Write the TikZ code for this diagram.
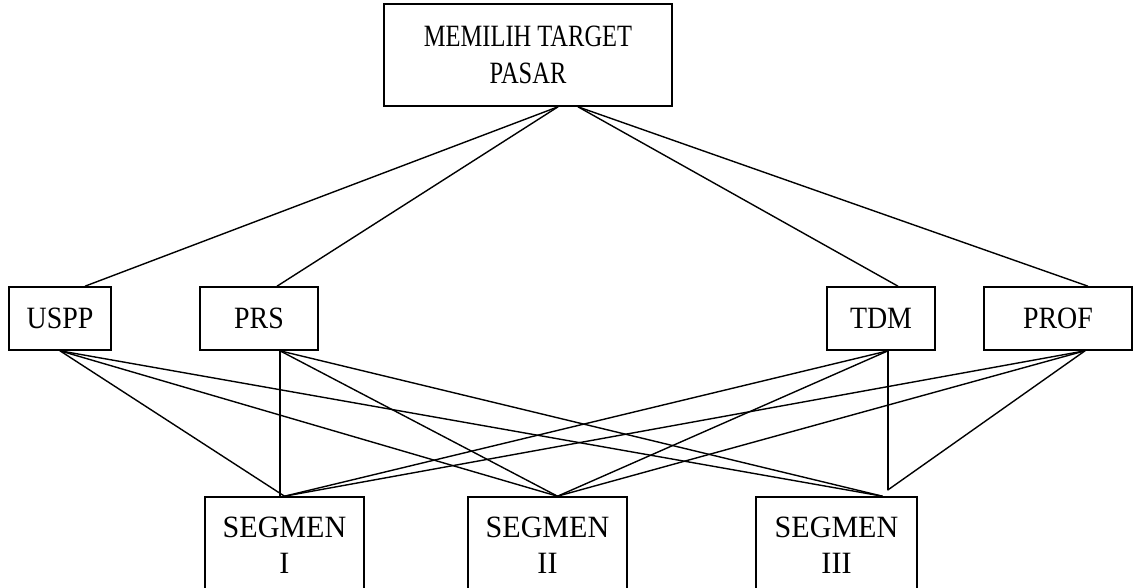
\documentclass[tikz,border=0pt]{standalone}
\usepackage{fontspec}
\setmainfont{Liberation Serif}
\newfontfamily\ftop{Liberation Serif}[FakeStretch=0.79]
\newfontfamily\fmid{Liberation Serif}[FakeStretch=0.9]
\newfontfamily\fbot{Liberation Serif}[FakeStretch=0.97]
\usetikzlibrary{calc}
\begin{document}
\begin{tikzpicture}[x=1pt,y=-1pt,
  box/.style={draw,line width=1.6pt,inner sep=0pt,align=center},
  topfont/.style={font=\ftop\fontsize{31}{37}\selectfont},
  midfont/.style={font=\fmid\fontsize{31}{37}\selectfont},
  botfont/.style={font=\fbot\fontsize{31}{36}\selectfont},
  conn/.style={line width=1.4pt}]
\useasboundingbox (0,0) rectangle (1134,587);
\node[box,topfont,minimum width=288pt,minimum height=102pt] (top) at (528,55) {MEMILIH TARGET\\PASAR};
\node[box,midfont,minimum width=102pt,minimum height=63pt] (uspp) at (60,318.5) {USPP};
\node[box,midfont,minimum width=118pt,minimum height=63pt] (prs) at (259,318.5) {PRS};
\node[box,midfont,minimum width=108pt,minimum height=63pt] (tdm) at (881,318.5) {TDM};
\node[box,midfont,minimum width=148pt,minimum height=63pt] (prof) at (1058,318.5) {PROF};
\node[box,botfont,minimum width=159pt,minimum height=96pt] (s1) at (284.5,545) {SEGMEN\\I};
\node[box,botfont,minimum width=159pt,minimum height=96pt] (s2) at (547.5,545) {SEGMEN\\II};
\node[box,botfont,minimum width=161pt,minimum height=96pt] (s3) at (836.5,545) {SEGMEN\\III};
% anchor points
\coordinate (tl) at ($(top.south)+(30,0)$);
\coordinate (tr) at ($(top.south)+(50,0)$);
\coordinate (ut) at ($(uspp.north)+(25,0)$);
\coordinate (pt) at ($(prs.north)+(18,0)$);
\coordinate (dt) at ($(tdm.north)+(17,0)$);
\coordinate (ft) at ($(prof.north)+(30,0)$);
\coordinate (ub) at (uspp.south);
\coordinate (pb) at ($(prs.south)+(21,0)$);
\coordinate (db) at ($(tdm.south)+(7,0)$);
\coordinate (fb) at ($(prof.south)+(27,0)$);
\coordinate (s1t) at (s1.north);
\coordinate (s2t) at ($(s2.north)+(10,0)$);
\coordinate (s3t) at ($(s3.north)+(46,0)$);
\coordinate (s3u) at ($(s3.north)+(51,-6)$);
\draw[conn] (tl) -- (ut);
\draw[conn] (tl) -- (pt);
\draw[conn] (tr) -- (dt);
\draw[conn] (tr) -- (ft);
\draw[conn] (ub) -- (s1t);
\draw[conn] (ub) -- (s2t);
\draw[conn] (ub) -- (s3t);
\draw[conn] (pb) -- (pb |- s1t);
\draw[conn] (pb) -- (s2t);
\draw[conn] (pb) -- (s3t);
\draw[conn] (db) -- (db |- s3u);
\draw[conn] (db) -- (s2t);
\draw[conn] (db) -- (s1t);
\draw[conn] (fb) -- (s3u);
\draw[conn] (fb) -- (s2t);
\draw[conn] (fb) -- (s1t);
\end{tikzpicture}
\end{document}
